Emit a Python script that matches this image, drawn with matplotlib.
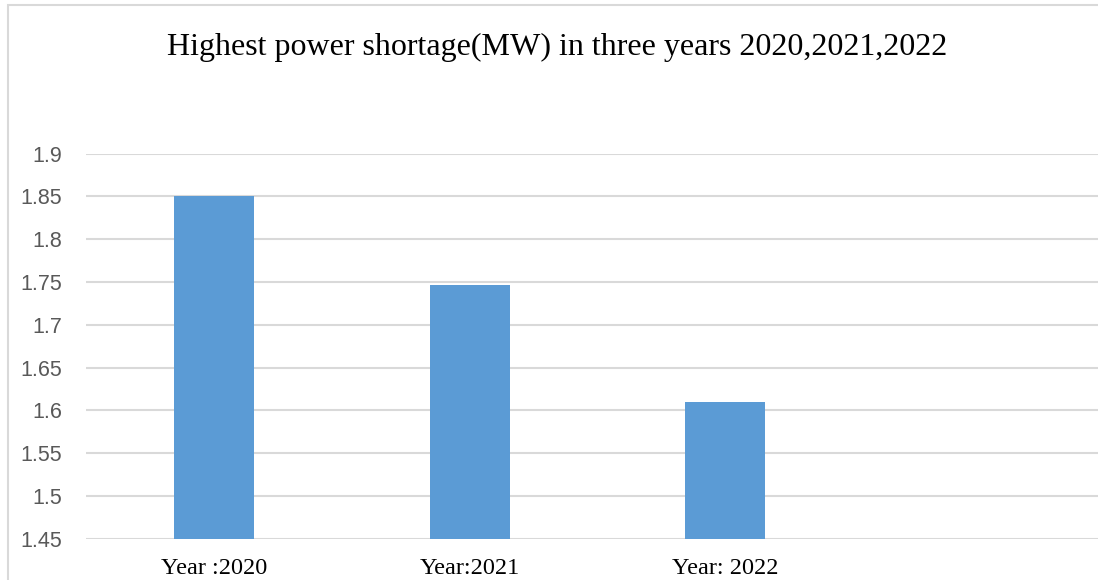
import matplotlib
matplotlib.use("Agg")
import matplotlib.pyplot as plt
from matplotlib.patches import Rectangle

categories = ["Year :2020", "Year:2021", "Year: 2022", ""]
values = [1.85, 1.747, 1.61, None]
yticks = [1.45, 1.5, 1.55, 1.6, 1.65, 1.7, 1.75, 1.8, 1.85, 1.9]
ytick_labels = ["1.45", "1.5", "1.55", "1.6", "1.65", "1.7", "1.75", "1.8", "1.85", "1.9"]
title = "Highest power shortage(MW) in three years 2020,2021,2022"

W, H = 1098, 580
fig = plt.figure(figsize=(W / 100, H / 100), dpi=100)

# chart frame
fig.patches.append(Rectangle((7.5 / W, -0.1), 1.2, 1 - 5 / H + 0.1, transform=fig.transFigure,
                             fill=False, edgecolor="#d9d9d9", linewidth=1.5))

ax_left = 86 / W
ax_bottom = 1 - 539 / H
ax_top = 1 - 153.5 / H
ax = fig.add_axes([ax_left, ax_bottom, 1 - ax_left, ax_top - ax_bottom])

xs = list(range(len(categories)))
bar_x = [x for x, v in zip(xs, values) if v is not None]
bar_v = [v for v in values if v is not None]
ax.bar(bar_x, [v - 1.45 for v in bar_v], bottom=1.45, width=0.313, color="#5b9bd5", zorder=3)

ax.set_ylim(1.45, 1.9)
slot = 255.75
ax.set_xlim(-0.5, -0.5 + (W - 86) / slot)
ax.set_yticks(yticks)
ax.set_yticklabels(ytick_labels, fontfamily="Liberation Sans", fontsize=15.5, color="#595959")
ax.set_xticks(xs)
ax.set_xticklabels(categories, fontfamily="Liberation Serif", fontsize=17.5, color="black")
ax.tick_params(axis="y", length=0, pad=17)
ax.tick_params(axis="x", length=0, pad=14)
ax.grid(axis="y", color="#d9d9d9", linewidth=1.5, zorder=0)
for s in ax.spines.values():
    s.set_visible(False)

fig.text(557 / W, 1 - 47 / H, title, ha="center", va="center",
         fontfamily="Liberation Serif", fontsize=23, color="black")

fig.savefig("out.png", dpi=100)
